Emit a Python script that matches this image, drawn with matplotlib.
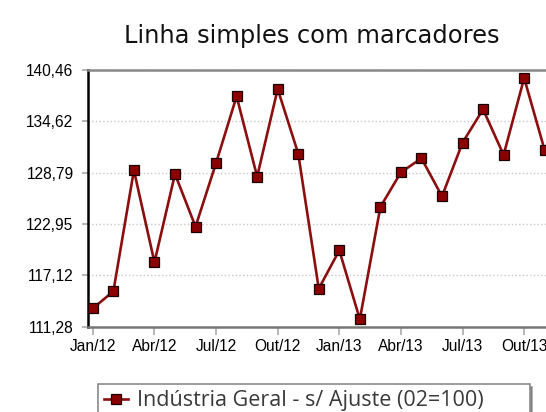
import numpy as np
import matplotlib
matplotlib.use("Agg")
import matplotlib.pyplot as plt

# monthly index, Jan/12 .. Nov/13
months = ["Jan/12", "Fev/12", "Mar/12", "Abr/12", "Mai/12", "Jun/12",
          "Jul/12", "Ago/12", "Set/12", "Out/12", "Nov/12", "Dez/12",
          "Jan/13", "Fev/13", "Mar/13", "Abr/13", "Mai/13", "Jun/13",
          "Jul/13", "Ago/13", "Set/13", "Out/13", "Nov/13"]
valores = [113.37, 115.30, 129.06, 118.60, 128.64, 122.65,
           129.89, 137.47, 128.33, 138.30, 130.95, 115.60,
           119.96, 112.12, 124.89, 128.83, 130.42, 126.10,
           132.20, 135.99, 130.80, 139.55, 131.33]
serie = "Indústria Geral - s/ Ajuste (02=100)"
y_min, y_max = 111.28, 140.46

fig = plt.figure(figsize=(5.46, 4.12), dpi=100)
# plot area runs past the right edge of the image
ax = fig.add_axes([87.5 / 546, 85.3 / 412, 488 / 546, 256.7 / 412])

x = np.arange(len(valores))
ax.plot(x, valores, color="#8b0f0f", lw=1.9, marker="s", ms=6.5,
        mfc="#8b0000", mec="#1a0000", mew=0.9, label=serie, zorder=3)

ax.set_xlim(-0.26, 23.5)
ax.set_ylim(y_min, y_max)

yt = np.linspace(y_min, y_max, 6)
ax.set_yticks(yt)
ax.set_yticklabels([f"{v:.2f}".replace(".", ",") for v in yt])
ax.set_xticks(x[::3])
ax.set_xticklabels(months[::3])
ax.tick_params(axis="both", labelsize=11.2, colors="#aaaaaa", labelcolor="black",
               width=1.2)
ax.tick_params(axis="x", length=5.5, pad=3)
ax.tick_params(axis="y", length=4, pad=6)
for t in ax.get_xticklabels() + ax.get_yticklabels():
    t.set_family("Liberation Sans")

ax.grid(axis="y", color="#c8c8c8", ls=":", lw=1)
ax.set_axisbelow(True)
ax.spines["left"].set_color("black")
ax.spines["left"].set_linewidth(1.8)
ax.spines["top"].set_color("#888888")
ax.spines["top"].set_linewidth(1.8)
ax.spines["bottom"].set_color("#777777")
ax.spines["bottom"].set_linewidth(1.8)
ax.spines["right"].set_visible(False)

fig.text(312 / 546, 1 - 36 / 412, "Linha simples com marcadores",
         ha="center", va="center", fontsize=17.4, color="#111111",
         family="DejaVu Sans")

leg = fig.legend(loc="upper left",
                 bbox_to_anchor=(97.5 / 546, 1 - 388 / 412, 432 / 546, 0.01),
                 mode="expand", borderaxespad=0, frameon=True, fancybox=False,
                 shadow=True, handlelength=1.1, borderpad=0.3,
                 handletextpad=0.45,
                 prop={"family": "Open Sans", "size": 15.5})
leg.get_frame().set_edgecolor("#8a8a8a")
leg.get_frame().set_linewidth(1.2)
for t in leg.get_texts():
    t.set_color("#3a3a3a")

fig.savefig("out.png", dpi=100)
